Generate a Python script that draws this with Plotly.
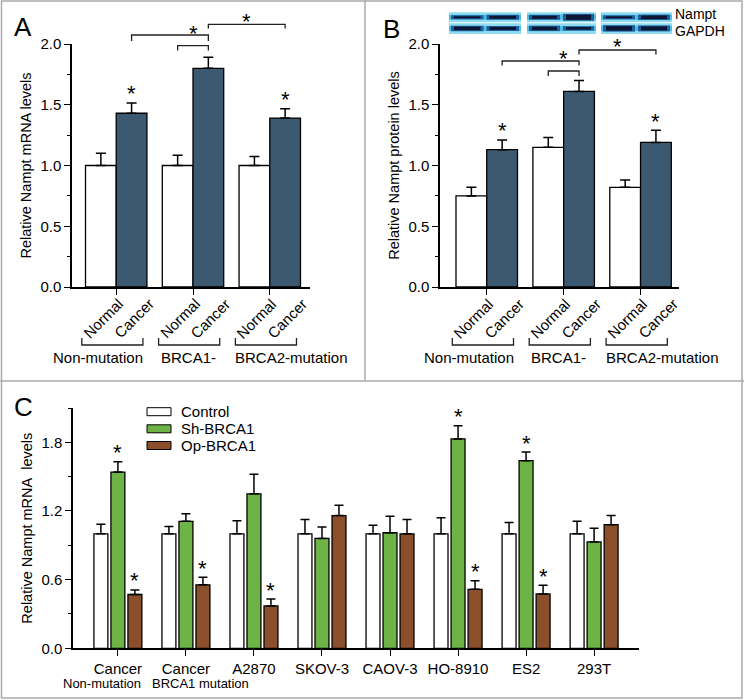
import plotly.graph_objects as go

# ---------------- data ----------------
groups_ab = ["Non-mutation", "BRCA1-", "BRCA2-mutation"]
tissue = ["Normal", "Cancer"]

mrna_normal = [1.00, 1.00, 1.00]
mrna_normal_err = [0.10, 0.085, 0.075]
mrna_cancer = [1.43, 1.80, 1.39]
mrna_cancer_err = [0.085, 0.09, 0.078]

prot_normal = [0.75, 1.15, 0.82]
prot_normal_err = [0.07, 0.08, 0.06]
prot_cancer = [1.13, 1.61, 1.19]
prot_cancer_err = [0.08, 0.09, 0.10]

cells = ["Cancer", "Cancer", "A2870", "SKOV-3", "CAOV-3", "HO-8910", "ES2", "293T"]
cell_sub = ["Non-mutation", "BRCA1 mutation", "", "", "", "", "", ""]
series_c = ["Control", "Sh-BRCA1", "Op-BRCA1"]
control = [1.00, 1.00, 1.00, 1.00, 1.00, 1.00, 1.00, 1.00]
control_err = [0.085, 0.065, 0.115, 0.125, 0.075, 0.14, 0.10, 0.11]
sh_brca1 = [1.54, 1.11, 1.35, 0.96, 1.01, 1.83, 1.64, 0.93]
sh_brca1_err = [0.09, 0.065, 0.17, 0.10, 0.145, 0.115, 0.075, 0.12]
op_brca1 = [0.47, 0.555, 0.37, 1.16, 1.00, 0.515, 0.475, 1.08]
op_brca1_err = [0.04, 0.065, 0.06, 0.09, 0.125, 0.075, 0.075, 0.08]
sig_sh = [1, 0, 0, 0, 0, 1, 1, 0]
sig_op = [1, 1, 1, 0, 0, 1, 1, 0]

# ---------------- style ----------------
W, H = 744, 700
FONT = "Liberation Sans, Arial, Helvetica, sans-serif"
BLUE = "#3b5a72"
GREEN = "#6db346"
BROWN = "#8c4f2b"
BORDER = "#ababab"


def px(x):
    return x / W


def py(y):
    return 1 - y / H


GAP = 2.5  # spacing between groups (in bar widths) for panels A/B


def ab_x(g, k):
    return g * GAP + (k - 0.5)


fig = go.Figure()

err_style = dict(type="data", symmetric=False, color="black", thickness=1.5)

panels_ab = [
    ("x", "y", mrna_normal, mrna_normal_err, mrna_cancer, mrna_cancer_err),
    ("x2", "y2", prot_normal, prot_normal_err, prot_cancer, prot_cancer_err),
]
for xa, ya, nv, ne, cv, ce in panels_ab:
    for k, (vals, errs, col) in enumerate([(nv, ne, "white"), (cv, ce, BLUE)]):
        fig.add_trace(go.Bar(
            x=[ab_x(g, k) for g in range(len(vals))], y=vals, width=1,
            name=tissue[k],
            marker=dict(color=col, line=dict(color="black", width=1.3)),
            error_y=dict(array=errs, arrayminus=[0] * len(errs), width=5, **err_style),
            xaxis=xa, yaxis=ya, showlegend=False, hoverinfo="skip"))

c_cols = ["white", GREEN, BROWN]
c_vals = [control, sh_brca1, op_brca1]
c_errs = [control_err, sh_brca1_err, op_brca1_err]
for s in range(3):
    fig.add_trace(go.Bar(
        x=[i + (s - 1) * 0.25 for i in range(len(cells))], y=c_vals[s], width=0.205,
        name=series_c[s],
        marker=dict(color=c_cols[s], line=dict(color="black", width=1.3)),
        error_y=dict(array=c_errs[s], arrayminus=[0] * len(cells), width=4.5, **err_style),
        xaxis="x3", yaxis="y3", showlegend=False, hoverinfo="skip"))

tickfont = dict(family=FONT, size=15, color="black")
titlefont = dict(family=FONT, size=14.5, color="black")
axis_common = dict(showline=True, linecolor="black", linewidth=1.5, showgrid=False,
                   zeroline=False, ticks="outside", tickcolor="black", tickwidth=1.3,
                   automargin=False, tickfont=tickfont)

yab = dict(range=[0, 2], tick0=0, dtick=0.5, tickformat=".1f", ticklen=6,
           minor=dict(dtick=0.25, ticks="outside", ticklen=3.5, tickcolor="black", tickwidth=1.3),
           **axis_common)

fig.update_layout(
    width=W, height=H, margin=dict(l=0, r=0, t=0, b=0),
    template="none", paper_bgcolor="white", plot_bgcolor="rgba(0,0,0,0)",
    barmode="overlay", font=dict(family=FONT, size=15, color="black"),
    xaxis=dict(domain=[px(72), px(310)], range=[-1.44, 6.31], anchor="y",
               tickvals=[g * GAP for g in range(3)], showticklabels=False, ticklen=6, **axis_common),
    yaxis=dict(domain=[py(287), py(44)], anchor="x",
               title=dict(text="Relative Nampt mRNA levels", font=titlefont, standoff=5), **yab),
    xaxis2=dict(domain=[px(440), px(679)], range=[-1.52, 6.25], anchor="y2",
                tickvals=[g * GAP for g in range(3)], showticklabels=False, ticklen=6, **axis_common),
    yaxis2=dict(domain=[py(287), py(44)], anchor="x2",
                title=dict(text="Relative Nampt protein levels", font=titlefont, standoff=5), **yab),
    xaxis3=dict(domain=[px(73), px(639)], range=[-0.66, 7.66], anchor="y3",
                tickvals=list(range(len(cells))), ticktext=cells, ticklen=6, **axis_common),
    yaxis3=dict(domain=[py(648.3), py(408)], range=[0, 2.1], anchor="x3", tick0=0, dtick=0.6,
                tickformat=".1f", ticklen=6,
                minor=dict(dtick=0.3, ticks="outside", ticklen=3.5, tickcolor="black", tickwidth=1.3),
                title=dict(text="Relative Nampt mRNA\u00a0 levels", font=titlefont, standoff=5),
                **axis_common),
)

ann = []
shapes = []


# ---- stars above bars ----
def star(xref, yref, x, y):
    ann.append(dict(xref=xref, yref=yref, x=x, y=y, text="*", showarrow=False,
                    font=dict(family=FONT, size=22, color="black"),
                    xanchor="center", yanchor="middle", yshift=9))


for xr, yr, cv, ce in [("x", "y", mrna_cancer, mrna_cancer_err), ("x2", "y2", prot_cancer, prot_cancer_err)]:
    for g in (0, 2):
        star(xr, yr, ab_x(g, 1), cv[g] + ce[g])

for i in range(len(cells)):
    if sig_sh[i]:
        star("x3", "y3", i, sh_brca1[i] + sh_brca1_err[i])
    if sig_op[i]:
        star("x3", "y3", i + 0.25, op_brca1[i] + op_brca1_err[i])


# ---- significance brackets (A, B) ----
def bracket(xref, x0, x1, ytop, ybot):
    shapes.append(dict(type="path", xref=xref, yref="paper",
                       path=f"M {x0},{py(ybot)} L {x0},{py(ytop)} L {x1},{py(ytop)} L {x1},{py(ybot)}",
                       line=dict(color="#222", width=1.3)))


def star_paper(xref, x, ypix):
    ann.append(dict(xref=xref, yref="paper", x=x, y=py(ypix), text="*", showarrow=False,
                    font=dict(family=FONT, size=22, color="black"),
                    xanchor="center", yanchor="middle", yshift=-4))


# panel A
bracket("x", ab_x(0, 1), ab_x(1, 1), 35, 41)
bracket("x", ab_x(1, 0), ab_x(1, 1), 45.7, 50.5)
bracket("x", ab_x(1, 1), ab_x(2, 1), 24.3, 28.5)
star_paper("x", (ab_x(1, 0) + ab_x(1, 1)) / 2, 30)
star_paper("x", (ab_x(1, 1) + ab_x(2, 1)) / 2, 18)
# panel B
bracket("x2", ab_x(0, 1), ab_x(1, 1), 61, 65.5)
bracket("x2", ab_x(1, 0), ab_x(1, 1), 71, 76)
bracket("x2", ab_x(1, 1), ab_x(2, 1), 50, 54.5)
star_paper("x2", (ab_x(1, 0) + ab_x(1, 1)) / 2, 55)
star_paper("x2", (ab_x(1, 1) + ab_x(2, 1)) / 2, 43)

# ---- rotated tissue labels, group brackets and group names (A, B) ----
group_shift = [-18, -5, 22]
for xr in ("x", "x2"):
    for g in range(3):
        for k in range(2):
            ann.append(dict(xref=xr, yref="paper", x=ab_x(g, k), y=py(318.5), xshift=2,
                            text=tissue[k], textangle=-45, showarrow=False,
                            font=tickfont, xanchor="center", yanchor="middle"))
        bracket(xr, g * GAP - 1.12, g * GAP + 0.87, 345, 338)
        ann.append(dict(xref=xr, yref="paper", x=g * GAP, y=py(357), xshift=group_shift[g],
                        text=groups_ab[g], showarrow=False, font=tickfont,
                        xanchor="center", yanchor="middle"))

# ---- sub labels panel C ----
sub_shift = [-16, 15]
for i, sub in enumerate(cell_sub):
    if sub:
        ann.append(dict(xref="x3", yref="paper", x=i, y=py(683.5), xshift=sub_shift[i], text=sub,
                        showarrow=False, font=dict(family=FONT, size=13, color="black"),
                        xanchor="center", yanchor="middle"))

# ---- legend panel C ----
leg_y = [411.7, 428.8, 445.5]
for s in range(3):
    shapes.append(dict(type="rect", xref="paper", yref="paper",
                       x0=px(147), x1=px(171), y0=py(leg_y[s] + 4), y1=py(leg_y[s] - 4),
                       fillcolor=c_cols[s], line=dict(color="black", width=1)))
    ann.append(dict(xref="paper", yref="paper", x=px(179), y=py(leg_y[s]), text=series_c[s],
                    showarrow=False, font=tickfont, xanchor="left", yanchor="middle"))

# ---- panel letters ----
for letter, (lx, ly) in zip("ABC", [(23, 27), (391, 29), (23, 407)]):
    ann.append(dict(xref="paper", yref="paper", x=px(lx), y=py(ly), text=letter, showarrow=False,
                    font=dict(family=FONT, size=26, color="black"), xanchor="center", yanchor="middle"))

# ---- western blot (panel B inset) ----
blot_x = [(449, 521), (527, 596), (601, 672)]
blot_rows = [(12.3, 22.3, 17.3), (23.3, 34, 28.4)]
band_px = [[(2.0, 3.0), (3.5, 3.0)], [(3.0, 5.0), (3.5, 2.5)], [(2.0, 3.5), (4.5, 4.0)]]
for b, (bx0, bx1) in enumerate(blot_x):
    mid = (bx0 + bx1) / 2
    for r, (ry0, ry1, yc) in enumerate(blot_rows):
        shapes.append(dict(type="rect", xref="paper", yref="paper", x0=px(bx0), x1=px(bx1),
                           y0=py(ry1), y1=py(ry0), fillcolor="#8fdcf2", line=dict(width=0)))
        shapes.append(dict(type="rect", xref="paper", yref="paper", x0=px(bx0), x1=px(bx1),
                           y0=py(yc + 2.5), y1=py(yc - 2.5), fillcolor="#4cbde6", line=dict(width=0)))
        for l, (lx0, lx1) in enumerate([(bx0 + 2, mid - 1.5), (mid + 1.5, bx1 - 2)]):
            w = band_px[b][r][l]
            shapes.append(dict(type="line", xref="paper", yref="paper", x0=px(lx0), x1=px(lx1),
                               y0=py(yc), y1=py(yc), line=dict(color="#1f5f9a", width=w + 2)))
            shapes.append(dict(type="line", xref="paper", yref="paper", x0=px(lx0 + 3), x1=px(lx1 - 3),
                               y0=py(yc), y1=py(yc), line=dict(color="#0b1634", width=w)))
for txt, yy in [("Nampt", 14.5), ("GAPDH", 31)]:
    ann.append(dict(xref="paper", yref="paper", x=px(673), y=py(yy), text=txt, showarrow=False,
                    font=dict(family=FONT, size=14, color="black"), xanchor="left", yanchor="middle"))

# ---- panel borders ----
shapes.append(dict(type="rect", xref="paper", yref="paper", x0=px(1.5), x1=px(742), y0=py(698),
                   y1=py(1), line=dict(color=BORDER, width=1.5)))
shapes.append(dict(type="line", xref="paper", yref="paper", x0=px(365), x1=px(365), y0=py(381),
                   y1=py(0), line=dict(color=BORDER, width=1.5)))
shapes.append(dict(type="line", xref="paper", yref="paper", x0=px(0), x1=px(744), y0=py(381),
                   y1=py(381), line=dict(color=BORDER, width=1.5)))

fig.update_layout(annotations=ann, shapes=shapes)
fig.write_html("out.html", config={"displayModeBar": False},
               post_script="document.body.style.margin='0';document.body.style.overflow='hidden';")
